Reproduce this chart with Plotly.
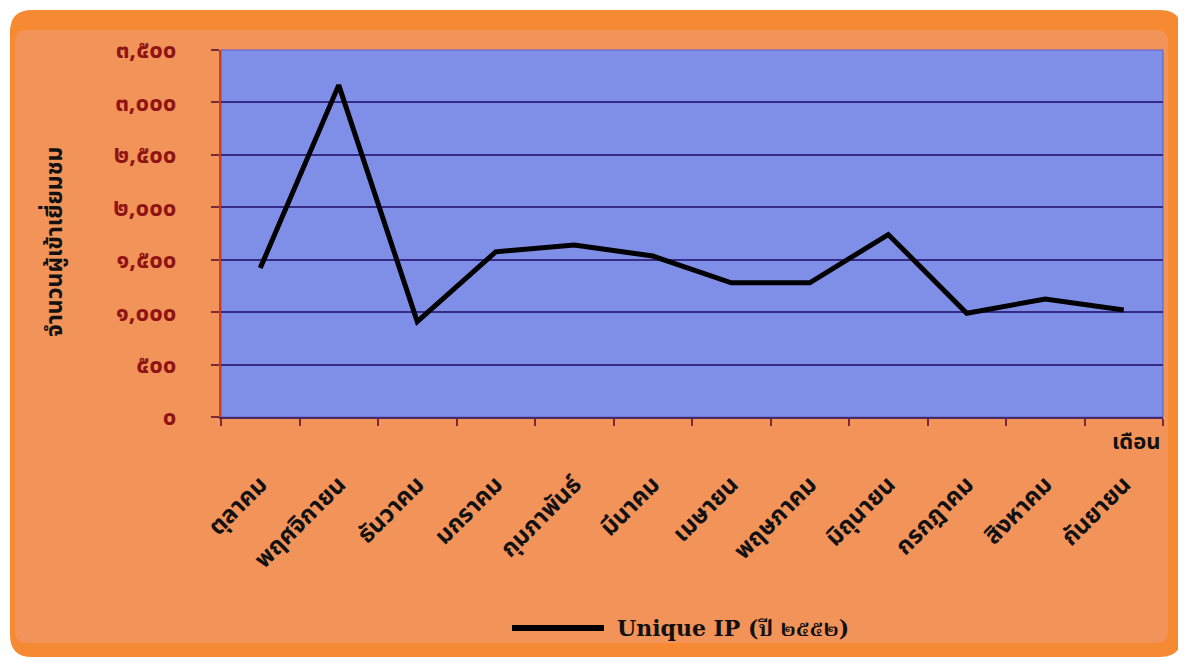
import plotly.graph_objects as go

months = ["ตุลาคม", "พฤศจิกายน", "ธันวาคม", "มกราคม", "กุมภาพันธ์", "มีนาคม",
          "เมษายน", "พฤษภาคม", "มิถุนายน", "กรกฎาคม", "สิงหาคม", "กันยายน"]
unique_ip = [1420, 3165, 910, 1575, 1640, 1535, 1280, 1280, 1740, 990, 1125, 1020]
y_tickvals = [0, 500, 1000, 1500, 2000, 2500, 3000, 3500]
y_ticktext = ["๐", "๕๐๐", "๑,๐๐๐", "๑,๕๐๐", "๒,๐๐๐", "๒,๕๐๐", "๓,๐๐๐", "๓,๕๐๐"]
series_name = "Unique IP (ปี ๒๕๕๒)"
y_title = "จำนวนผู้เข้าเยี่ยมชม"
x_title = "เดือน"

# page body has an 8px margin, so the figure is sized/offset accordingly
OFF = 8
W, H = 1186 - OFF, 658 - OFF
PL, PR, PT, PB = 221, 1163, 50, 417          # plot area in reference pixels
ML, MT = PL - OFF, PT - OFF
MR, MB = W - (PR - OFF), H - (PB - OFF)
PW, PH = PR - PL, PB - PT

THAI = "Noto Sans Thai, Noto Sans, DejaVu Sans"


def px(x):
    return (x - PL) / PW


def py(y):
    return (PB - y) / PH


def rounded_rect(x0, y0, x1, y1, r):
    rx = r / PW
    ry = r / PH
    X0, X1 = px(x0), px(x1)
    Y0, Y1 = py(y0), py(y1)
    return (f"M {X0 + rx},{Y0} L {X1 - rx},{Y0} Q {X1},{Y0} {X1},{Y0 - ry} "
            f"L {X1},{Y1 + ry} Q {X1},{Y1} {X1 - rx},{Y1} "
            f"L {X0 + rx},{Y1} Q {X0},{Y1} {X0},{Y1 + ry} "
            f"L {X0},{Y0 - ry} Q {X0},{Y0} {X0 + rx},{Y0} Z")


fig = go.Figure()
fig.add_trace(go.Scatter(
    x=months, y=unique_ip, mode="lines", name=series_name,
    line=dict(color="#000000", width=5), showlegend=False,
))

shapes = [
    dict(type="path", xref="paper", yref="paper", layer="below",
         path=rounded_rect(10, 10, 1182, 657, 22),
         fillcolor="#F68A32", line=dict(width=0)),
    dict(type="path", xref="paper", yref="paper", layer="below",
         path=rounded_rect(15, 30, 1168, 643, 12),
         fillcolor="#F2935A", line=dict(width=0)),
    dict(type="rect", xref="paper", yref="paper", layer="below",
         x0=0, x1=1, y0=0, y1=1,
         fillcolor="#7F8FE8", line=dict(color="#5a5fd0", width=1)),
    dict(type="line", xref="paper", yref="paper",
         x0=px(512), x1=px(604), y0=py(628), y1=py(628),
         line=dict(color="#000000", width=6)),
]

annotations = [
    dict(text=y_title, xref="paper", yref="paper", x=px(55), y=py(242),
         textangle=-90, showarrow=False, xanchor="center", yanchor="middle",
         font=dict(size=23, color="#111111", family=THAI, weight="bold")),
    dict(text=x_title, xref="paper", yref="paper", x=1.0, y=py(442),
         showarrow=False, xanchor="right", yanchor="middle",
         font=dict(size=22, color="#111111", family=THAI, weight="bold")),
    dict(text=series_name, xref="paper", yref="paper", x=px(615), y=py(628),
         showarrow=False, xanchor="left", yanchor="middle",
         font=dict(size=22, color="#111111", family="DejaVu Serif, Noto Serif Thai, serif",
                   weight="bold")),
]

fig.update_layout(
    width=W, height=H,
    margin=dict(l=ML, r=MR, t=MT, b=MB, autoexpand=False),
    paper_bgcolor="#FFFFFF",
    plot_bgcolor="rgba(0,0,0,0)",
    shapes=shapes,
    annotations=annotations,
    showlegend=False,
    xaxis=dict(
        type="category", categoryorder="array", categoryarray=months,
        range=[-0.5, 11.5], tickson="boundaries",
        ticks="outside", ticklen=7, tickcolor="#7a2a3a", tickwidth=1.5,
        showgrid=False, showline=True, linecolor="#4a2a60", linewidth=1.5,
        tickangle=-45, zeroline=False, ticklabelstandoff=42,
        tickfont=dict(size=24, color="#111111", family=THAI, weight="bold"),
    ),
    yaxis=dict(
        range=[0, 3500], tickvals=y_tickvals, ticktext=y_ticktext,
        ticks="outside", ticklen=8, tickcolor="#7a2a3a", tickwidth=1.5,
        showgrid=True, gridcolor="#352a85", gridwidth=1.5,
        showline=True, linecolor="#c8401a", linewidth=1.5, zeroline=False,
        ticklabelstandoff=30,
        tickfont=dict(size=24, color="#8E1414", family=THAI, weight="bold"),
    ),
)

fig.write_html("out.html")
